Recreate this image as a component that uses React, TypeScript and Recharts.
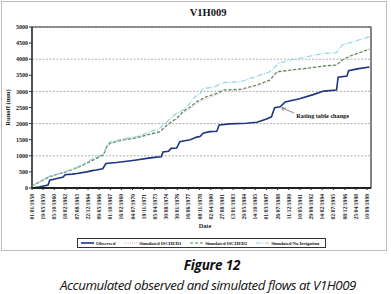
import { CartesianGrid, LineChart, Line, ReferenceArea, ReferenceDot, ReferenceLine, XAxis, YAxis } from 'recharts'

const tickLabels = [
  '01/01/1958', '19/05/1959', '05/10/1960', '18/02/1962', '07/08/1963', '22/12/1964',
  '09/05/1966', '01/10/1967', '16/02/1969', '04/07/1970', '19/11/1971', '05/04/1973',
  '30/08/1974', '30/01/1976', '16/06/1977', '08/11/1978', '02/04/1980', '27/08/1981',
  '13/01/1983', '29/05/1984', '14/10/1985', '01/03/1987', '26/07/1988', '11/12/1989',
  '10/05/1991', '29/09/1992', '14/02/1994', '02/07/1995', '08/12/1996', '25/04/1998',
  '10/09/1999',
]
const yTicks = [0, 500, 1000, 1500, 2000, 2500, 3000, 3500, 4000, 4500, 5000]

// observed accumulated runoff (mm)
const obsYears = [
  1958.0, 1959.0, 1960.0, 1960.2, 1961.0, 1961.9, 1962.1, 1963.0, 1963.6, 1964.8, 1965.5,
  1966.0, 1966.8, 1967.2, 1968.5, 1969.8, 1971.0, 1972.3, 1973.5, 1974.1, 1974.3, 1975.0,
  1975.3, 1976.0, 1976.4, 1977.0, 1977.7, 1978.5, 1978.9, 1979.3, 1980.1, 1981.0, 1981.3,
  1982.6, 1984.7, 1986.0, 1987.2, 1987.8, 1988.2, 1988.9, 1989.5, 1991.3, 1993.0, 1994.3,
  1995.9, 1996.1, 1997.2, 1997.4, 1998.5, 2000.0,
]
const obsRunoff = [
  0, 40, 90, 240, 290, 340, 410, 430, 450, 500, 540,
  560, 600, 760, 790, 830, 870, 920, 960, 970, 1120, 1140,
  1230, 1240, 1440, 1470, 1500, 1580, 1600, 1700, 1750, 1760, 1955,
  1990, 2010, 2040, 2140, 2210, 2490, 2520, 2670, 2770, 2900, 3010,
  3040, 3440, 3480, 3640, 3700, 3760,
]

// simulated series share a year grid
const simYears = [
  1958.0, 1959.0, 1960.2, 1961.2, 1962.3, 1963.5, 1964.4, 1965.2, 1966.0, 1966.9, 1967.3,
  1967.7, 1969.3, 1971.0, 1972.3, 1973.9, 1974.8, 1976.0, 1976.8, 1977.7, 1978.5, 1979.7,
  1981.0, 1981.8, 1983.9, 1986.0, 1987.6, 1988.5, 1990.2, 1992.3, 1994.3, 1995.9, 1996.6,
  1997.6, 1998.9, 2000.0,
]
const isched1 = [
  60, 200, 350, 430, 500, 610, 705, 810, 910, 1020, 1270,
  1380, 1480, 1550, 1630, 1730, 1930, 2140, 2330, 2470, 2630, 2790,
  2900, 3010, 3040, 3170, 3320, 3590, 3650, 3710, 3780, 3810, 3960,
  4090, 4210, 4310,
]
const isched2 = [
  60, 200, 350, 430, 510, 620, 715, 820, 920, 1030, 1280,
  1390, 1490, 1560, 1650, 1750, 1955, 2165, 2370, 2520, 2680, 2835,
  2940, 3045, 3065, 3200, 3355, 3610, 3665, 3720, 3790, 3820, 3975,
  4100, 4215, 4310,
]
const noIrrYears = [
  1958.0, 1959.0, 1960.2, 1961.2, 1962.3, 1963.5, 1964.4, 1965.2, 1966.0, 1966.9, 1967.3,
  1967.7, 1969.3, 1971.0, 1972.3, 1973.9, 1974.8, 1976.0, 1977.0, 1977.7, 1978.3, 1978.9,
  1979.3, 1980.5, 1981.8, 1983.9, 1985.6, 1987.6, 1988.7, 1990.2, 1992.3, 1994.3, 1995.9,
  1996.6, 1998.0, 2000.0,
]
const noIrrigation = [
  60, 210, 370, 440, 520, 640, 740, 860, 960, 1060, 1330,
  1430, 1520, 1600, 1700, 1855, 2060, 2320, 2450, 2650, 2835, 2930,
  3095, 3120, 3270, 3300, 3435, 3610, 3870, 3975, 4080, 4180, 4200,
  4440, 4545, 4700,
]

const toYear = (s: string) => {
  const [d, m, y] = s.split('/').map(Number)
  return y + ((m - 1) * 30.44 + d - 1) / 365.25
}
const xTicks = tickLabels.map(toYear)
const labelFor = new Map(xTicks.map((t, i) => [t, tickLabels[i]]))

const zip = (xs: number[], ys: number[]) => xs.map((x, i) => ({ x, y: ys[i] }))

const series = [
  { name: 'Observed', data: zip(obsYears, obsRunoff), color: '#1c3584', width: 1.6, dash: undefined },
  { name: 'Simulated ISCHED1', data: zip(simYears, isched1), color: '#e6a6cf', width: 1, dash: '1 1' },
  { name: 'Simulated ISCHED2', data: zip(simYears, isched2), color: '#4f8a4f', width: 1.2, dash: '3 2' },
  { name: 'Simulated No Irrigation', data: zip(noIrrYears, noIrrigation), color: '#8fd3dc', width: 1.2, dash: '5 1.5 1 1.5' },
]

const serif = '"Liberation Serif", "DejaVu Serif", serif'
const sans = '"Open Sans", "Noto Sans", sans-serif'
const domain: [number, number] = [1958, 2000.19]

function DateTick({ x, y, payload }: any) {
  return (
    <text
      x={0}
      y={0}
      transform={`translate(${x + 2},${y + 2}) rotate(-90)`}
      textAnchor="end"
      fontFamily={serif}
      fontWeight="bold"
      fontSize={5.6}
      fill="#222"
    >
      {labelFor.get(payload.value) ?? ''}
    </text>
  )
}

export default function App() {
  return (
    <div style={{ position: 'absolute', left: 0, top: 0, width: 391, height: 294, background: '#fff' }}>
      <div style={{ position: 'absolute', left: 1, top: 1, width: 384, height: 248, border: '1px solid #bdbdbd' }} />
      <div
        style={{
          position: 'absolute', left: 0, width: 416, top: 7, textAlign: 'center',
          fontFamily: serif, fontWeight: 'bold', fontSize: 10.5, color: '#111',
        }}
      >
        V1H009
      </div>
      <div style={{ position: 'absolute', left: 0, top: 0 }}>
        <LineChart width={391} height={224} margin={{ top: 27, right: 20, bottom: 0, left: 0 }}>
          <CartesianGrid vertical={false} stroke="#777" strokeDasharray="2 1.5" strokeWidth={0.6} />
          <XAxis
            dataKey="x"
            type="number"
            domain={domain}
            ticks={xTicks}
            interval={0}
            height={36}
            tick={<DateTick />}
            tickSize={2}
            axisLine={{ stroke: '#222', strokeWidth: 2 }}
            tickLine={{ stroke: '#222' }}
            allowDataOverflow
          />
          <YAxis
            domain={[0, 5000]}
            ticks={yTicks}
            width={32}
            tickSize={3}
            tickMargin={1}
            tick={{ fontFamily: serif, fontWeight: 'bold', fontSize: 6, fill: '#222' }}
            axisLine={{ stroke: '#333', strokeWidth: 1.2 }}
            tickLine={{ stroke: '#333' }}
            label={{
              value: 'Runoff (mm)', angle: -90, position: 'insideLeft', offset: 8,
              style: { fontFamily: serif, fontWeight: 'bold', fontSize: 6.5, fill: '#222', textAnchor: 'middle' },
            }}
          />
          <ReferenceArea x1={domain[0]} x2={domain[1]} y1={0} y2={5000} fill="none" stroke="#333" strokeWidth={1.2} />
          {series.map(s => (
            <Line
              key={s.name}
              data={s.data}
              dataKey="y"
              name={s.name}
              type="linear"
              stroke={s.color}
              strokeWidth={s.width}
              strokeDasharray={s.dash}
              dot={false}
              isAnimationActive={false}
            />
          ))}
          <ReferenceLine
            segment={[{ x: 1990.6, y: 2330 }, { x: 1989.1, y: 2490 }]}
            stroke="#555"
            strokeWidth={0.7}
          />
          <ReferenceLine segment={[{ x: 1989.1, y: 2490 }, { x: 1989.6, y: 2480 }]} stroke="#555" strokeWidth={0.7} />
          <ReferenceLine segment={[{ x: 1989.1, y: 2490 }, { x: 1989.3, y: 2400 }]} stroke="#555" strokeWidth={0.7} />
          <ReferenceDot
            x={1990.9}
            y={2240}
            r={0}
            fill="none"
            stroke="none"
            label={{
              value: 'Rating table change', position: 'right', offset: 0,
              style: { fontFamily: serif, fontWeight: 'bold', fontSize: 6.2, fill: '#111' },
            }}
          />
        </LineChart>
      </div>
      <div
        style={{
          position: 'absolute', left: 0, width: 410, top: 222, textAlign: 'center',
          fontFamily: serif, fontWeight: 'bold', fontSize: 6.2, color: '#222',
        }}
      >
        Date
      </div>
      <div
        style={{
          position: 'absolute', left: 77, top: 238, width: 249, height: 10, border: '1px solid #333',
          display: 'flex', alignItems: 'center', gap: 9, paddingLeft: 3, boxSizing: 'border-box',
          fontFamily: serif, fontWeight: 'bold', fontSize: 4.9, color: '#222', whiteSpace: 'nowrap',
          letterSpacing: -0.1, overflow: 'hidden',
        }}
      >
        {series.map(s => (
          <div key={s.name} style={{ display: 'flex', alignItems: 'center', gap: 2 }}>
            <svg width={13} height={4}>
              <line x1={0} y1={2} x2={13} y2={2} stroke={s.color} strokeWidth={s.width} strokeDasharray={s.dash} />
            </svg>
            <span>{s.name}</span>
          </div>
        ))}
      </div>
      <div
        style={{
          position: 'absolute', left: 0, width: 424, top: 258, height: 14, lineHeight: '14px', textAlign: 'center',
          fontFamily: sans, fontStyle: 'italic', fontWeight: 'bold',
          fontSize: 13.5, color: '#111', letterSpacing: -0.2,
        }}
      >
        Figure 12
      </div>
      <div
        style={{
          position: 'absolute', left: 0, width: 416, top: 278, height: 14, lineHeight: '14px', textAlign: 'center',
          fontFamily: sans, fontStyle: 'italic',
          fontSize: 13.3, color: '#111', letterSpacing: -0.45,
        }}
      >
        Accumulated observed and simulated flows at V1H009
      </div>
    </div>
  )
}
